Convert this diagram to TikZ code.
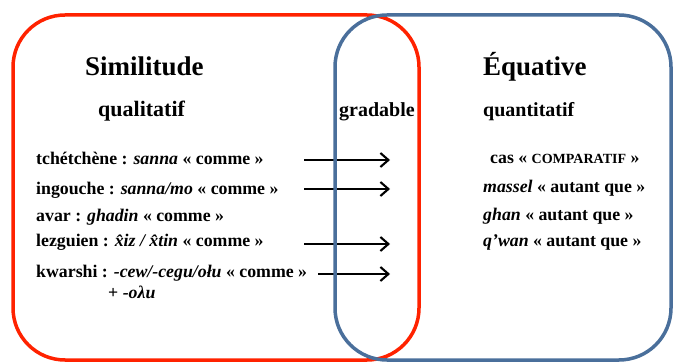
\documentclass[tikz,border=0pt]{standalone}
\usepackage{fontspec}
\setmainfont{Liberation Serif}
\usepackage{tikz}
\usepackage{xcolor}
\usetikzlibrary{positioning, arrows.meta}
\definecolor{cSim}{HTML}{FF2200}
\definecolor{cEqu}{HTML}{4A6F9B}

\tikzset{
  head/.style={font=\rmfamily\bfseries\fontsize{27}{30}\selectfont, inner sep=0pt, anchor=base west},
  sub/.style={font=\rmfamily\bfseries\fontsize{20}{24}\selectfont, inner sep=0pt, anchor=base west},
  ex/.style={font=\rmfamily\bfseries\fontsize{17.8}{20}\selectfont, inner sep=0pt, anchor=base west},
  arr/.style={-{Straight Barb[length=8pt, width=14pt]}, line width=2.1pt, black},
  zone/.style={line width=3.5pt, rounded corners=52pt},
}

\begin{document}
\begin{tikzpicture}[x=1pt, y=-1pt]
  \useasboundingbox (0,0) rectangle (674,363);
  \draw[zone, cSim] (13,15) rectangle (419,360);

  % headings
  \node[head] (sim) at (85,76) {Similitude};
  \node[head] (equ) at (483,76) {Équative};
  \node[sub, font=\rmfamily\bfseries\fontsize{22}{24}\selectfont] (qual) at (98,117) {qualitatif};
  \node[sub] (grad) at (339,117) {gradable};
  \node[sub] (quant) at (483,117) {quantitatif};

  % left column
  \node[ex] (tch) at (36,165) {tchétchène : \textit{sanna} «~comme~»};
  \node[ex] (ing) at (36,195) {ingouche : \textit{sanna/mo} «~comme~»};
  \node[ex] (ava) at (36,222) {avar : \textit{ghadin} «~comme~»};
  \node[ex] (lez) at (36,247) {lezguien : \textit{x̂iz / x̂tin} «~comme~»};
  \node[ex] (kwa) at (36,277) {kwarshi : \textit{-cew/-cegu/ołu} «~comme~»};
  \node[ex] (kwb) at (108,298) {+ \textit{-oλu}};

  % right column
  \node[ex] (cas) at (490,164) {cas «~{\fontsize{14}{16}\selectfont COMPARATIF}~»};
  \node[ex] (mas) at (483,193) {\textit{massel} «~autant que~»};
  \node[ex] (gha) at (483,221) {\textit{ghan} «~autant que~»};
  \node[ex] (qwa) at (483,247) {\textit{q’wan} «~autant que~»};

  % arrows
  \coordinate (a1) at (304,160);
  \coordinate (b1) at (390,160);
  \coordinate (a2) at (304,189);
  \coordinate (b2) at (390,189);
  \coordinate (a3) at (304,244);
  \coordinate (b3) at (390,244);
  \coordinate (a4) at (318,274);
  \coordinate (b4) at (390,274);
  \foreach \i in {1,...,4}
    \draw[arr] (a\i) -- (b\i);

  \draw[zone, cEqu] (335,15) rectangle (671,360);
\end{tikzpicture}
\end{document}
